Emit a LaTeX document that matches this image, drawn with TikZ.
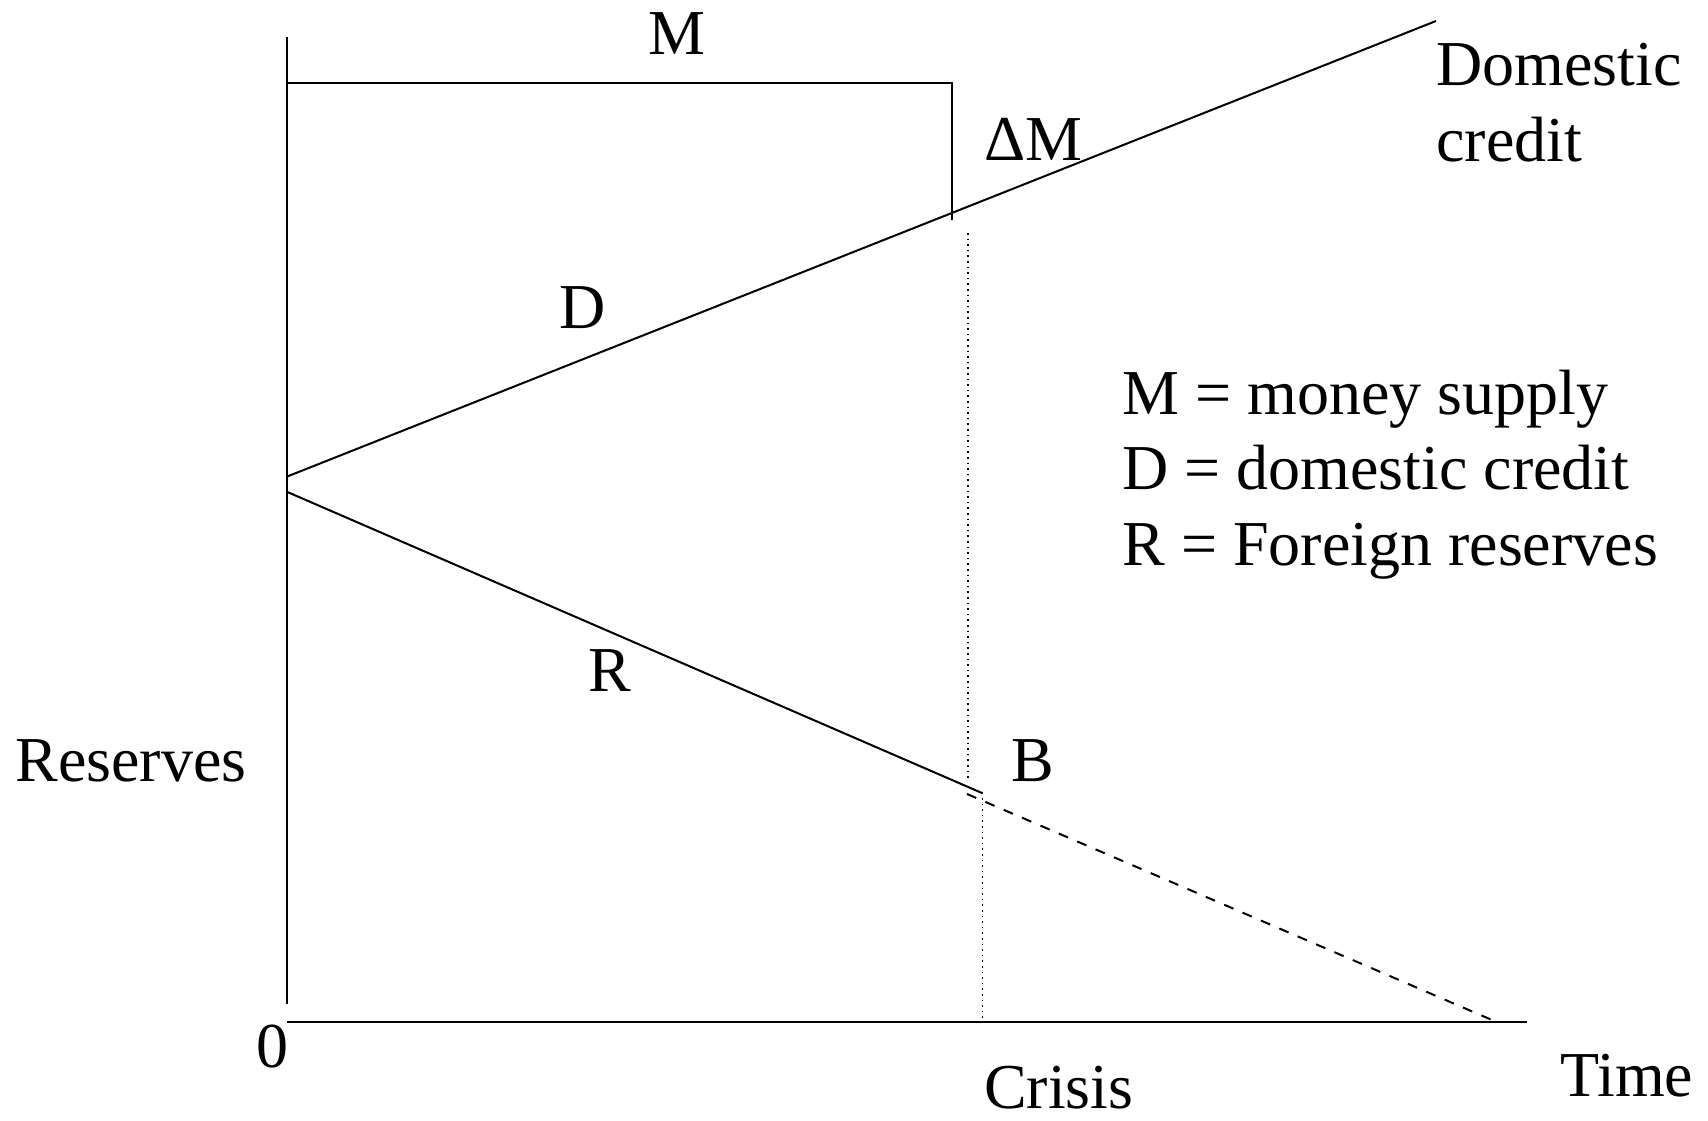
\documentclass[tikz,border=0pt]{standalone}
\usepackage{fontspec}
\setmainfont{Liberation Serif}
\begin{document}
\begin{tikzpicture}[x=0.5pt,y=-0.5pt,
  lbl/.style={inner sep=0pt,font=\fontsize{32}{38}\selectfont},
  ln/.style={line width=1pt},
  dotln/.style={line width=0.8pt,dotted},
  dashln/.style={line width=1pt,dash pattern=on 5pt off 5pt}]
\useasboundingbox (0,0) rectangle (1708,1120);
% axes
\coordinate (ytop) at (286.7,37);
\coordinate (ybot) at (286.7,1004);
\coordinate (xl) at (286.7,1021.7);
\coordinate (xr) at (1527,1021.7);
\draw[ln] (ytop) -- (ybot);
\draw[ln] (xl) -- (xr);
% M bracket
\coordinate (mleft) at (286.7,83);
\coordinate (mright) at (951.7,83);
\coordinate (mbot) at (951.7,220);
\draw[ln] (mleft) -- (mright) -- (mbot);
% domestic credit line
\coordinate (d0) at (286.7,476.7);
\coordinate (d1) at (1436,21);
\draw[ln] (d0) -- (d1);
% reserves line
\coordinate (r0) at (286.7,491.7);
\coordinate (r1) at (982.7,793.3);
\draw[ln] (r0) -- (r1);
\coordinate (q0) at (967,794);
\coordinate (q1) at (1496,1021.7);
\draw[dashln] (q0) -- (q1);
% dotted crisis lines
\coordinate (c0) at (967.7,233);
\coordinate (c1) at (967.7,780);
\draw[dotln] (c0) -- (c1);
\coordinate (e0) at (982.3,798);
\coordinate (e1) at (982.3,1021.7);
\draw[dotln] (e0) -- (e1);
% labels
\node[lbl,anchor=base] (tM) at (677,54.5) {M};
\node[lbl,anchor=base west] (tDM) at (983.6,160) {ΔM};
\node[lbl,anchor=base west] (tDom) at (1436,85) {Domestic};
\node[lbl,anchor=base west] (tCred) at (1436,161) {credit};
\node[lbl,anchor=base] (tD) at (583,328) {D};
\node[lbl,anchor=base west] (tL1) at (1122,414) {M = money supply};
\node[lbl,anchor=base west] (tL2) at (1122,489) {D = domestic credit};
\node[lbl,anchor=base west] (tL3) at (1122,565) {R = Foreign reserves};
\node[lbl,anchor=base] (tR) at (610,691.7) {R};
\node[lbl,anchor=base] (tB) at (1033,781) {B};
\node[lbl,anchor=base west] (tRes) at (15,781) {Reserves};
\node[lbl,anchor=base] (t0) at (272,1067.5) {0};
\node[lbl,anchor=base west] (tCr) at (983.6,1108) {Crisis};
\node[lbl,anchor=base west] (tT) at (1560,1096) {Time};
\end{tikzpicture}
\end{document}
